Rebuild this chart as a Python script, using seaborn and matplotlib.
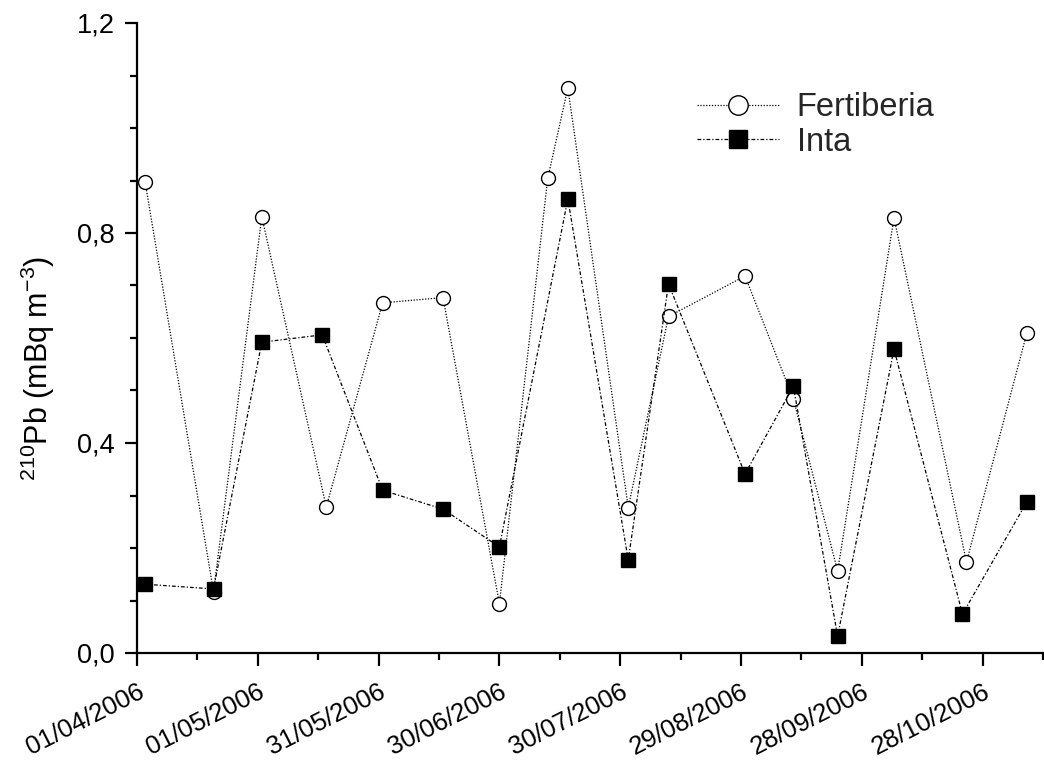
import pandas as pd
import seaborn as sns
import matplotlib.pyplot as plt
import matplotlib.dates as mdates
from matplotlib.ticker import FixedLocator, MultipleLocator, FuncFormatter
from matplotlib.lines import Line2D

# datos
fert_dates = ["2006-04-03", "2006-04-20", "2006-05-02", "2006-05-18", "2006-06-01",
              "2006-06-16", "2006-06-30", "2006-07-12", "2006-07-17", "2006-08-01",
              "2006-08-11", "2006-08-30", "2006-09-11", "2006-09-22", "2006-10-06",
              "2006-10-24", "2006-11-08"]
fert_pb = [0.898, 0.117, 0.831, 0.278, 0.667, 0.677, 0.094, 0.904, 1.076, 0.277,
           0.641, 0.718, 0.484, 0.156, 0.829, 0.173, 0.610]

inta_dates = ["2006-04-03", "2006-04-20", "2006-05-02", "2006-05-17", "2006-06-01",
              "2006-06-16", "2006-06-30", "2006-07-17", "2006-08-01", "2006-08-11",
              "2006-08-30", "2006-09-11", "2006-09-22", "2006-10-06", "2006-10-23",
              "2006-11-08"]
inta_pb = [0.131, 0.122, 0.592, 0.606, 0.310, 0.274, 0.202, 0.865, 0.177, 0.703,
           0.341, 0.508, 0.032, 0.579, 0.074, 0.288]

fert = pd.DataFrame({"fecha": pd.to_datetime(fert_dates), "pb": fert_pb})
inta = pd.DataFrame({"fecha": pd.to_datetime(inta_dates), "pb": inta_pb})

sns.set_style("ticks")
plt.rcParams["font.family"] = ["Liberation Sans", "DejaVu Sans"]
plt.rcParams["mathtext.default"] = "regular"

fig = plt.figure(figsize=(10.44, 7.62), dpi=100)
ax = fig.add_axes([137 / 1044, 109 / 762, 906 / 1044, 630 / 762])

dotted = (0, (1, 1.3))
dashdot = (0, (3, 1.6, 1, 1.6))

sns.lineplot(data=fert, x="fecha", y="pb", ax=ax, color="black", lw=0.9,
             linestyle=dotted, marker="o", markersize=10,
             markerfacecolor="white", markeredgecolor="black",
             markeredgewidth=1.0, errorbar=None, legend=False)
sns.lineplot(data=inta, x="fecha", y="pb", ax=ax, color="black", lw=0.9,
             linestyle=dashdot, marker="s", markersize=9.5,
             markerfacecolor="black", markeredgecolor="black",
             markeredgewidth=1.0, errorbar=None, legend=False)

# ejes
ax.set_xlim(pd.Timestamp("2006-04-01"), pd.Timestamp("2006-11-12"))
ax.set_ylim(0, 1.2)

major = pd.date_range("2006-04-01", periods=8, freq="30D")
minor = pd.date_range("2006-04-01", "2006-11-12", freq="15D")
ax.xaxis.set_major_locator(FixedLocator(mdates.date2num(major)))
ax.xaxis.set_minor_locator(FixedLocator(mdates.date2num(minor)))
ax.xaxis.set_major_formatter(mdates.DateFormatter("%d/%m/%Y"))

ax.yaxis.set_major_locator(MultipleLocator(0.4))
ax.yaxis.set_minor_locator(MultipleLocator(0.1))
ax.yaxis.set_major_formatter(FuncFormatter(lambda v, p: f"{v:.1f}".replace(".", ",")))

sns.despine(ax=ax)
for s in ["left", "bottom"]:
    ax.spines[s].set_linewidth(1.6)
    ax.spines[s].set_color("black")

ax.tick_params(axis="both", which="major", length=9, width=1.6, color="black",
               labelsize=19.5, labelcolor="black", direction="out")
ax.tick_params(axis="both", which="minor", length=5, width=1.6, color="black",
               direction="out")
ax.tick_params(axis="x", which="major", pad=10, labelsize=18.5)
ax.tick_params(axis="y", which="major", pad=7)
for lab in ax.get_xticklabels():
    lab.set_rotation(27)
    lab.set_ha("right")
    lab.set_rotation_mode("anchor")

ax.set_xlabel("")
ax.set_ylabel(r"$^{210}$Pb (mBq m$^{-3}$)", fontsize=22, color="black")
ax.yaxis.set_label_coords(-0.088, 0.452)

handles = [
    Line2D([], [], color="black", lw=0.9, linestyle=dotted, marker="o",
           markersize=14, markerfacecolor="white", markeredgecolor="black"),
    Line2D([], [], color="black", lw=0.9, linestyle=dashdot, marker="s",
           markersize=12.5, markerfacecolor="black", markeredgecolor="black"),
]
ax.legend(handles, ["Fertiberia", "Inta"], loc="upper left",
          bbox_to_anchor=(697 / 1044, 1 - 92 / 762), bbox_transform=fig.transFigure,
          frameon=False, fontsize=23.5, handlelength=2.5, handletextpad=0.55,
          labelspacing=0.12, borderpad=0, borderaxespad=0)

fig.savefig("out.png", dpi=100)
